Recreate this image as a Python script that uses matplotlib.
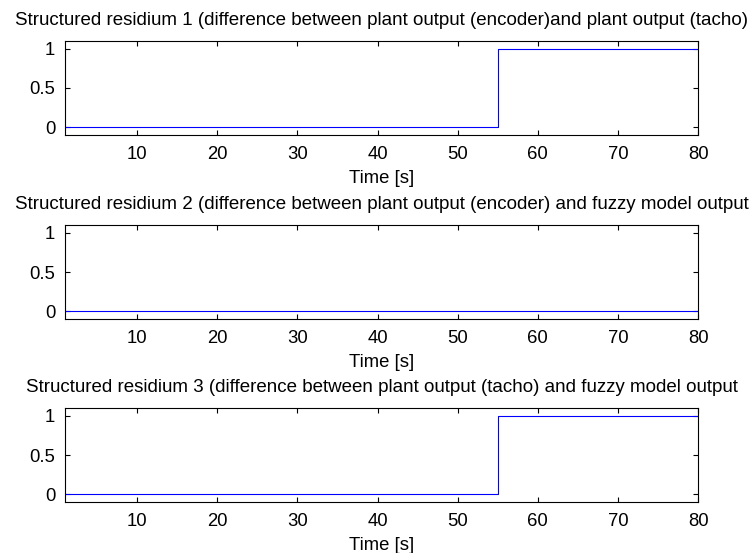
import matplotlib
matplotlib.use("Agg")
import matplotlib.pyplot as plt

plt.rcParams['font.family'] = ['Liberation Sans', 'DejaVu Sans']

time_points = [1, 55, 80]
residium1 = [0, 1, 1]
residium2 = [0, 0, 0]
residium3 = [0, 1, 1]
titles = [
    "Structured residium 1 (difference between plant output (encoder)and plant output (tacho)",
    "Structured residium 2 (difference between plant output (encoder) and fuzzy model output",
    "Structured residium 3 (difference between plant output (tacho) and fuzzy model output",
]
xticks = [10, 20, 30, 40, 50, 60, 70, 80]
yticks = [0, 0.5, 1]
ytick_labels = ["0", "0.5", "1"]

fig = plt.figure(figsize=(7.51, 5.53), dpi=100)
bottoms = [0.7559, 0.4231, 0.0922]
series = [residium1, residium2, residium3]
for b, s, title in zip(bottoms, series, titles):
    ax = fig.add_axes([0.0866, b, 0.843, 0.170])
    ax.plot(time_points, s, drawstyle='steps-post', color='#0000ff', lw=0.8)
    ax.set_xlim(1, 80)
    ax.set_ylim(-0.1, 1.1)
    ax.set_xticks(xticks)
    ax.set_yticks(yticks)
    ax.set_yticklabels(ytick_labels)
    ax.tick_params(direction='in', top=True, right=True, length=3.5, width=0.8,
                   labelsize=13.3)
    ax.tick_params(axis='x', pad=8)
    ax.tick_params(axis='y', pad=7)
    for sp in ax.spines.values():
        sp.set_linewidth(0.8)
    ax.set_title(title, fontsize=13.5, pad=11.5)
    ax.set_xlabel("Time [s]", fontsize=13.3, labelpad=5)

fig.savefig("out.png", dpi=100)
